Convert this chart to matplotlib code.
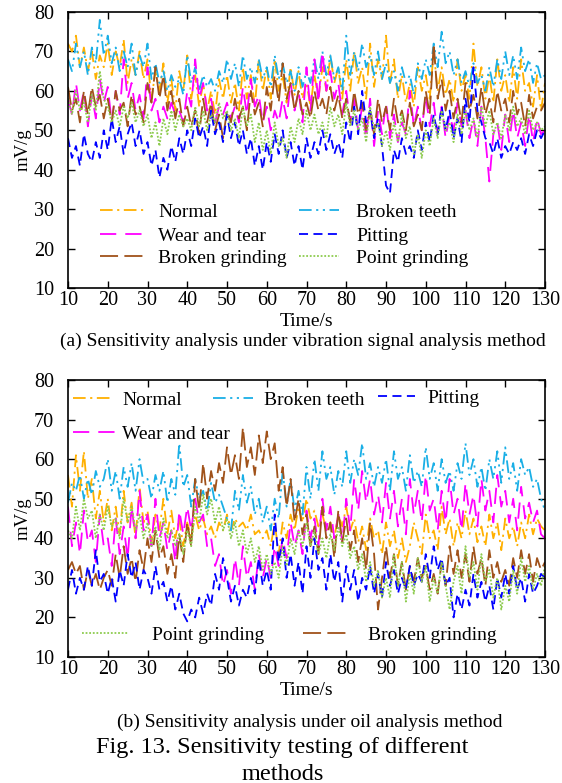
import numpy as np
import matplotlib
matplotlib.use("Agg")
import matplotlib.pyplot as plt
from matplotlib.legend import Legend

plt.rcParams["font.family"] = ["Liberation Serif", "DejaVu Serif"]
plt.rcParams["font.size"] = 14

time_s = np.arange(10, 131)

# (a) vibration signal analysis, one value per second, t = 10..130
vib_normal = [
    72, 70, 74, 66, 71, 65, 70, 63, 69, 66,
    72, 64, 70, 66, 73, 62, 68, 64, 70, 63,
    68, 58, 65, 60, 67, 57, 63, 55, 65, 60,
    69, 58, 64, 56, 62, 55, 60, 54, 63, 58,
    64, 57, 62, 55, 66, 58, 64, 56, 68, 60,
    66, 58, 68, 60, 64, 57, 66, 59, 65, 58,
    62, 56, 64, 58, 66, 60, 69, 62, 66, 58,
    68, 60, 70, 62, 66, 58, 72, 61, 68, 63,
    74, 62, 68, 58, 64, 57, 62, 56, 66, 60,
    64, 58, 70, 60, 66, 59, 63, 57, 68, 60,
    64, 58, 72, 61, 66, 58, 64, 57, 68, 60,
    64, 57, 66, 58, 68, 60, 62, 56, 64, 55,
    62]
vib_teeth = [
    68, 65, 72, 66, 70, 64, 71, 67, 78, 69,
    74, 67, 71, 65, 70, 66, 72, 64, 69, 66,
    72, 63, 67, 62, 65, 60, 64, 61, 63, 59,
    69, 62, 66, 60, 64, 61, 63, 60, 65, 62,
    68, 63, 67, 61, 69, 63, 66, 62, 68, 63,
    66, 61, 69, 63, 67, 62, 65, 60, 66, 61,
    65, 62, 68, 63, 70, 64, 69, 63, 66, 60,
    74, 64, 70, 65, 72, 66, 69, 64, 70, 63,
    67, 62, 65, 60, 66, 62, 64, 59, 67, 63,
    68, 64, 72, 66, 75, 67, 70, 64, 68, 62,
    65, 61, 67, 62, 64, 60, 66, 61, 68, 63,
    70, 64, 69, 63, 71, 65, 68, 62, 67, 63,
    64]
vib_wear = [
    58, 54, 62, 55, 60, 51, 59, 53, 63, 57,
    61, 52, 60, 54, 68, 58, 62, 55, 59, 53,
    66, 55, 58, 52, 56, 53, 57, 54, 55, 52,
    60, 56, 68, 58, 62, 55, 58, 52, 56, 54,
    57, 53, 56, 52, 61, 54, 63, 56, 59, 52,
    56, 50, 55, 52, 58, 53, 62, 55, 60, 52,
    66, 55, 68, 57, 70, 60, 65, 58, 62, 54,
    60, 52, 58, 50, 56, 48, 58, 46, 55, 49,
    57, 48, 54, 47, 52, 49, 60, 51, 56, 50,
    59, 51, 57, 49, 56, 48, 54, 50, 57, 51,
    55, 48, 53, 46, 56, 48, 37, 49, 52, 45,
    54, 47, 55, 48, 52, 46, 54, 47, 53, 49,
    50]
vib_broken_grinding = [
    61, 55, 58, 52, 60, 54, 61, 56, 59, 53,
    58, 52, 60, 55, 57, 51, 59, 54, 56, 52,
    62, 57, 66, 58, 64, 55, 60, 53, 58, 51,
    56, 51, 55, 49, 58, 52, 57, 50, 54, 48,
    55, 52, 58, 53, 56, 50, 60, 54, 57, 51,
    61, 55, 64, 57, 67, 58, 62, 55, 60, 54,
    57, 53, 60, 55, 58, 54, 61, 55, 59, 53,
    58, 52, 60, 54, 57, 50, 55, 49, 58, 52,
    56, 50, 58, 52, 55, 50, 57, 51, 54, 50,
    60, 54, 72, 58, 63, 55, 60, 53, 58, 52,
    62, 55, 59, 53, 61, 54, 58, 52, 60, 55,
    58, 52, 60, 54, 57, 51, 59, 53, 56, 55,
    57]
vib_pitting = [
    48, 43, 46, 41, 49, 44, 42, 47, 43, 50,
    45, 53, 47, 51, 44, 49, 52, 46, 50, 44,
    47, 41, 45, 38, 43, 40, 46, 42, 48, 44,
    50, 46, 53, 48, 51, 46, 55, 49, 52, 47,
    54, 48, 52, 46, 50, 44, 48, 41, 46, 40,
    47, 42, 49, 44, 50, 43, 47, 41, 46, 40,
    48, 43, 47, 44, 50, 45, 49, 44, 47, 43,
    52, 47, 56, 49, 60, 52, 55, 48, 53, 46,
    36, 34, 45, 42, 48, 44, 46, 43, 50, 45,
    52, 47, 54, 49, 56, 50, 55, 48, 53, 47,
    58, 52, 66, 55, 52, 48, 47, 44, 48, 43,
    46, 44, 47, 45, 48, 44, 49, 46, 50, 48,
    50]
vib_point_grinding = [
    58, 54, 60, 55, 57, 52, 59, 55, 65, 58,
    56, 52, 55, 51, 56, 53, 57, 52, 55, 51,
    54, 48, 52, 46, 53, 49, 55, 50, 54, 51,
    53, 50, 56, 51, 55, 50, 54, 52, 57, 53,
    55, 50, 53, 48, 56, 51, 54, 47, 52, 45,
    50, 44, 52, 46, 48, 43, 51, 47, 53, 49,
    55, 50, 54, 49, 52, 48, 56, 51, 54, 49,
    57, 51, 55, 50, 53, 47, 56, 50, 52, 46,
    50, 45, 52, 47, 54, 48, 51, 44, 49, 43,
    50, 46, 53, 48, 55, 50, 52, 47, 54, 49,
    55, 50, 53, 48, 56, 51, 55, 49, 52, 48,
    54, 50, 56, 51, 53, 49, 55, 50, 52, 50,
    51]

# (b) oil analysis
oil_normal = [
    56, 48, 61, 52, 62, 50, 55, 45, 52, 44,
    50, 42, 48, 41, 52, 44, 49, 40, 53, 44,
    47, 39, 46, 42, 50, 41, 47, 40, 45, 38,
    44, 40, 46, 42, 45, 41, 43, 40, 44, 42,
    46, 42, 45, 43, 44, 42, 46, 41, 42, 40,
    42, 38, 44, 36, 44, 40, 46, 42, 48, 44,
    50, 45, 47, 43, 46, 42, 44, 40, 46, 43,
    48, 42, 45, 39, 43, 37, 45, 40, 42, 36,
    44, 38, 42, 35, 40, 34, 38, 44, 40, 36,
    46, 40, 42, 37, 48, 41, 45, 38, 44, 40,
    47, 41, 45, 39, 43, 38, 46, 40, 44, 37,
    45, 40, 43, 38, 44, 40, 46, 41, 45, 43,
    42]
oil_teeth = [
    49, 54, 52, 56, 50, 55, 51, 57, 53, 55,
    60, 52, 57, 50, 58, 53, 59, 52, 60, 54,
    55, 50, 56, 52, 57, 49, 55, 51, 64, 53,
    56, 48, 55, 50, 52, 47, 54, 49, 51, 48,
    45, 42, 52, 47, 56, 49, 53, 46, 50, 44,
    48, 42, 50, 45, 57, 48, 55, 47, 52, 46,
    58, 50, 60, 52, 62, 55, 58, 51, 57, 53,
    62, 54, 60, 56, 64, 55, 59, 53, 58, 54,
    60, 52, 62, 55, 58, 52, 61, 54, 57, 53,
    63, 55, 59, 52, 60, 54, 57, 52, 59, 55,
    64, 56, 60, 53, 58, 52, 60, 55, 62, 54,
    63, 55, 59, 52, 60, 56, 58, 53, 55, 50,
    47]
oil_wear = [
    48, 38, 44, 36, 47, 39, 42, 34, 46, 38,
    40, 33, 45, 36, 43, 35, 48, 40, 52, 42,
    46, 38, 50, 40, 44, 37, 42, 34, 47, 41,
    48, 42, 50, 44, 46, 38, 40, 33, 36, 28,
    32, 26, 35, 28, 38, 30, 34, 27, 36, 30,
    35, 30, 38, 33, 40, 35, 44, 38, 42, 36,
    47, 40, 45, 38, 50, 42, 48, 40, 46, 39,
    50, 42, 55, 47, 57, 49, 55, 46, 51, 44,
    54, 45, 52, 43, 50, 41, 55, 46, 52, 44,
    56, 47, 50, 42, 52, 44, 55, 46, 50, 42,
    54, 46, 51, 43, 55, 47, 52, 44, 56, 48,
    52, 44, 50, 42, 53, 45, 49, 44, 47, 41,
    40]
oil_broken_grinding = [
    32, 34, 31, 33, 27, 32, 28, 31, 27, 30,
    32, 28, 36, 30, 38, 31, 35, 29, 37, 32,
    40, 34, 42, 35, 38, 31, 36, 30, 41, 34,
    44, 38, 55, 47, 59, 50, 57, 52, 59, 54,
    63, 56, 61, 55, 68, 58, 63, 56, 66, 59,
    67, 60, 64, 52, 58, 48, 55, 44, 50, 41,
    46, 38, 43, 36, 48, 40, 44, 35, 47, 39,
    45, 37, 42, 34, 40, 32, 44, 36, 22, 30,
    38, 30, 36, 28, 34, 27, 33, 29, 35, 30,
    33, 27, 31, 26, 34, 28, 38, 31, 37, 30,
    36, 29, 38, 31, 35, 28, 37, 30, 34, 29,
    32, 28, 35, 30, 37, 31, 36, 29, 35, 32,
    34]
oil_pitting = [
    27, 32, 26, 30, 27, 33, 28, 37, 29, 31,
    26, 30, 24, 32, 28, 36, 30, 34, 27, 32,
    30, 26, 33, 27, 29, 24, 28, 22, 26, 21,
    19, 22, 20, 25, 21, 26, 23, 31, 27, 35,
    30, 24, 28, 23, 27, 25, 30, 26, 35, 28,
    32, 27, 46, 34, 40, 30, 36, 28, 34, 26,
    38, 30, 40, 32, 35, 27, 36, 29, 34, 24,
    33, 27, 32, 24, 30, 27, 33, 26, 31, 25,
    34, 28, 32, 26, 30, 27, 33, 28, 31, 29,
    36, 30, 38, 32, 35, 28, 30, 20, 26, 22,
    27, 23, 31, 25, 29, 24, 28, 22, 30, 25,
    31, 26, 33, 27, 30, 24, 31, 26, 28, 31,
    30]
oil_point_grinding = [
    42, 40, 48, 42, 50, 45, 47, 40, 46, 42,
    48, 43, 45, 40, 50, 44, 48, 42, 46, 40,
    44, 38, 43, 37, 45, 40, 42, 38, 41, 36,
    42, 38, 48, 44, 51, 46, 50, 44, 48, 42,
    45, 40, 44, 38, 42, 36, 40, 34, 38, 32,
    36, 31, 34, 30, 38, 33, 40, 36, 42, 38,
    44, 38, 42, 36, 40, 35, 41, 37, 43, 38,
    41, 35, 38, 32, 36, 29, 34, 28, 32, 25,
    30, 25, 36, 28, 34, 24, 31, 26, 35, 29,
    33, 24, 30, 26, 34, 28, 22, 29, 33, 26,
    38, 30, 34, 27, 36, 29, 32, 25, 30, 22,
    28, 24, 32, 26, 35, 29, 33, 27, 31, 28,
    33]

STYLE = {
    "Normal": dict(color="#FFB000", ls=(0, (7, 2.5, 1.2, 2.5))),
    "Broken teeth": dict(color="#1AAFE6", ls=(0, (7, 2.5, 1.2, 2.5, 1.2, 2.5))),
    "Wear and tear": dict(color="#FF00FF", ls=(0, (9, 5))),
    "Broken grinding": dict(color="#A0521A", ls=(0, (10, 3.5))),
    "Pitting": dict(color="#0000FF", ls=(0, (5, 3))),
    "Point grinding": dict(color="#8DCB4E", ls=(0, (1, 1))),
}

W, H = 562, 783
FS_LEG = 14
EM = FS_LEG * 100 / 72  # legend font size in pixels


def plot_panel(ax, series):
    lines = {}
    for name, vals in series:
        st = STYLE[name]
        lines[name], = ax.plot(time_s, vals, color=st["color"], ls=st["ls"],
                               lw=1.3, label=name)
    ax.set_xlim(10, 130)
    ax.set_ylim(10, 80)
    ax.set_xticks(np.arange(10, 131, 10))
    ax.set_yticks(np.arange(10, 81, 10))
    ax.tick_params(direction="in", top=True, right=True, length=5,
                   width=1.0, labelsize=14.5)
    ax.tick_params(axis="x", pad=2)
    ax.tick_params(axis="y", pad=10)
    for sp in ax.spines.values():
        sp.set_linewidth(1.2)
    ax.set_ylabel("mV/g", fontsize=13.5, labelpad=2)
    ax.set_xlabel("Time/s", fontsize=14, labelpad=2)
    return lines


def put_entry(ax, line, label, x0, yc, hlen, xtext):
    # one legend entry: handle starts at pixel x0, text at xtext, centred on yc
    leg = Legend(ax, [line], [label], loc="center left", frameon=False,
                 bbox_to_anchor=(x0 / W, 1 - yc / H),
                 bbox_transform=ax.figure.transFigure,
                 borderpad=0, borderaxespad=0,
                 handlelength=hlen / EM,
                 handletextpad=(xtext - x0 - hlen) / EM,
                 fontsize=FS_LEG)
    ax.add_artist(leg)


fig = plt.figure(figsize=(W / 100, H / 100), dpi=100)

ax1 = fig.add_axes([68 / W, 1 - 288 / H, 477 / W, 276 / H])
l1 = plot_panel(ax1, [
    ("Normal", vib_normal), ("Broken teeth", vib_teeth),
    ("Wear and tear", vib_wear), ("Broken grinding", vib_broken_grinding),
    ("Pitting", vib_pitting), ("Point grinding", vib_point_grinding)])
put_entry(ax1, l1["Normal"], "Normal", 100, 212, 45, 158)
put_entry(ax1, l1["Wear and tear"], "Wear and tear", 100, 236, 45, 158)
put_entry(ax1, l1["Broken grinding"], "Broken grinding", 100, 258, 45, 158)
put_entry(ax1, l1["Broken teeth"], "Broken teeth", 299, 212, 40, 356)
put_entry(ax1, l1["Pitting"], "Pitting", 299, 236, 40, 356)
put_entry(ax1, l1["Point grinding"], "Point grinding", 299, 258, 40, 356)

ax2 = fig.add_axes([68 / W, 1 - 657 / H, 477 / W, 277 / H])
l2 = plot_panel(ax2, [
    ("Normal", oil_normal), ("Broken teeth", oil_teeth),
    ("Wear and tear", oil_wear), ("Broken grinding", oil_broken_grinding),
    ("Pitting", oil_pitting), ("Point grinding", oil_point_grinding)])
put_entry(ax2, l2["Normal"], "Normal", 73, 400, 37, 122)
put_entry(ax2, l2["Broken teeth"], "Broken teeth", 213, 400, 40, 264)
put_entry(ax2, l2["Pitting"], "Pitting", 378, 398, 37, 427)
put_entry(ax2, l2["Wear and tear"], "Wear and tear", 73, 434, 42, 122)
put_entry(ax2, l2["Point grinding"], "Point grinding", 82, 635, 46, 152)
put_entry(ax2, l2["Broken grinding"], "Broken grinding", 303, 635, 45, 368)

fig.text(303 / W, 1 - 341 / H,
         "(a) Sensitivity analysis under vibration signal analysis method",
         ha="center", va="center", fontsize=14)
fig.text(310 / W, 1 - 722 / H, "(b) Sensitivity analysis under oil analysis method",
         ha="center", va="center", fontsize=14)
fig.text(282 / W, 1 - 747 / H, "Fig. 13. Sensitivity testing of different",
         ha="center", va="center", fontsize=17.5)
fig.text(283 / W, 1 - 774 / H, "methods", ha="center", va="center",
         fontsize=17.5)

fig.savefig("out.png", dpi=100)
